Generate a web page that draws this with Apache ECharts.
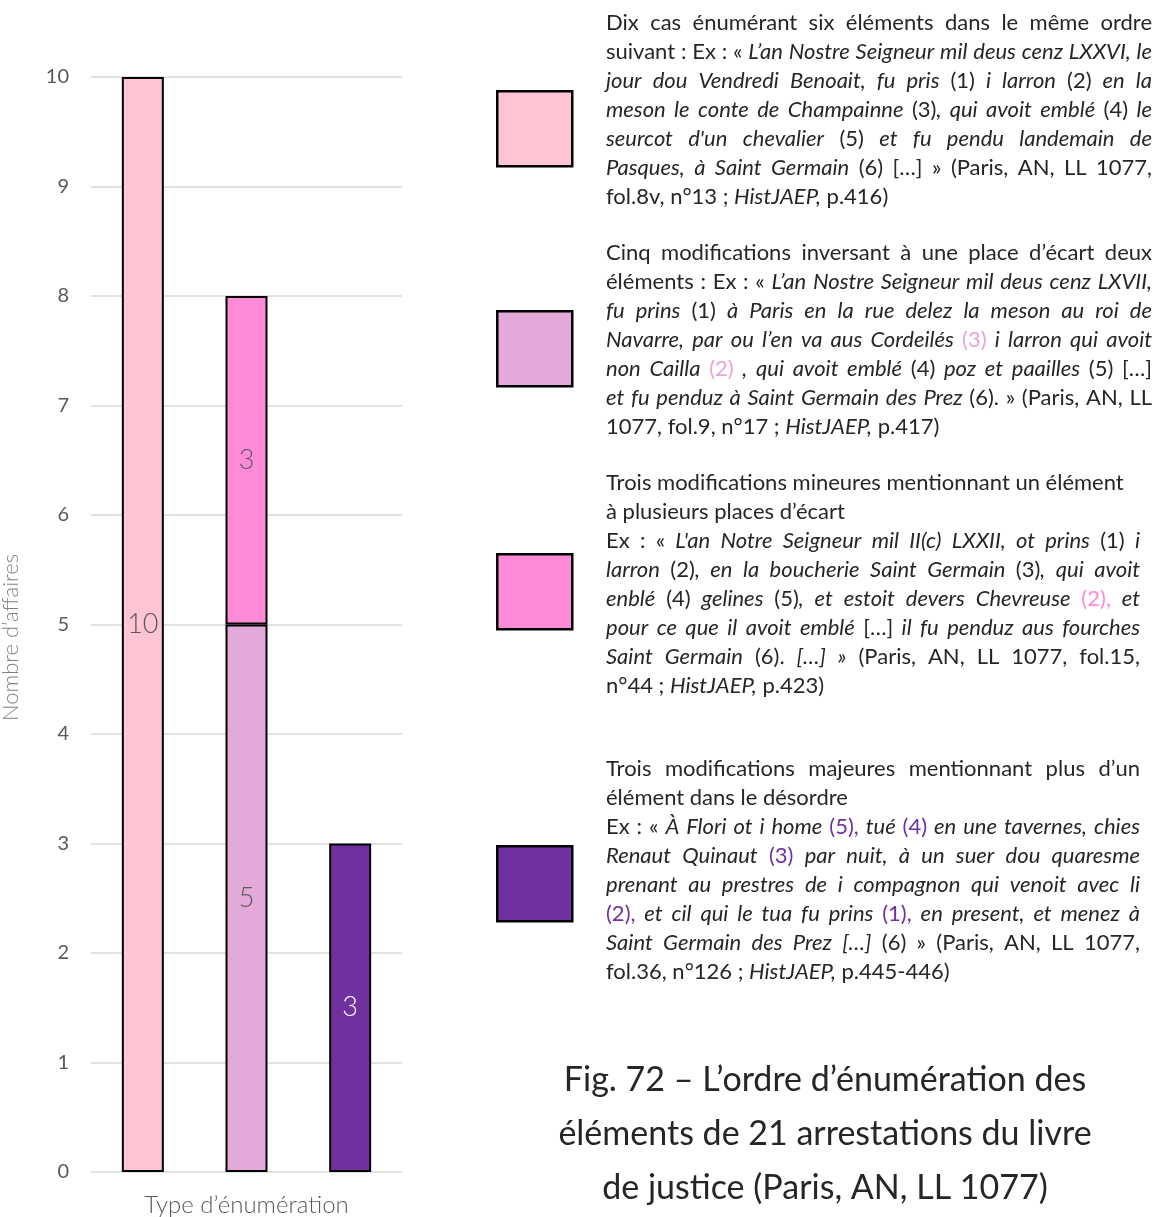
<!DOCTYPE html>
<html>
<head>
<meta charset="utf-8">
<script src="https://cdn.jsdelivr.net/npm/echarts@6/dist/echarts.min.js"></script>
<style>
  html, body { margin: 0; padding: 0; background: #fff; }
  #chart { width: 1166px; height: 1217px; }
</style>
</head>
<body>
<div id="chart"></div>
<script>
// ---- data ----
const categories = ['Même ordre', 'Inversion', 'Désordre'];
const yTicks = [0, 10, 1]; // min, max, interval
const sameOrder = [10, '-', '-'];
const inversion = ['-', 5, '-'];
const minorChange = ['-', 3, '-'];
const majorChange = ['-', '-', 3];
const seriesNames = ['Même ordre', 'Inversion', 'Modifications mineures', 'Modifications majeures'];
const seriesColors = ['#FFC5D5', '#E3A9D8', '#FF8AD8', '#7030A0'];
const titleLines = [
  'Fig. 72 – L’ordre d’énumération des',
  'éléments de 21 arrestations du livre',
  'de justice (Paris, AN, LL 1077)'
];

// Explanatory paragraphs: each line is a list of [style, text] pieces.
// n = roman, i = italic, a/b/c = coloured references.
const paragraphs = [
  { top: 23, right: 1152, lines: [
    { j: 1, s: [['n', 'Dix cas énumérant six éléments dans le même ordre']] },
    { j: 1, s: [['n', 'suivant : Ex : « '], ['i', 'L’an Nostre Seigneur mil deus cenz LXXVI, le']] },
    { j: 1, s: [['i', 'jour dou Vendredi Benoait, fu pris '], ['n', '(1) '], ['i', 'i larron '], ['n', '(2) '], ['i', 'en la']] },
    { j: 1, s: [['i', 'meson le conte de Champainne '], ['n', '(3)'], ['i', ', qui avoit emblé '], ['n', '(4) '], ['i', 'le']] },
    { j: 1, s: [['i', 'seurcot d\'un chevalier '], ['n', '(5) '], ['i', 'et fu pendu landemain de']] },
    { j: 1, s: [['i', 'Pasques, à Saint Germain '], ['n', '(6) […] » (Paris, AN, LL 1077,']] },
    { j: 0, s: [['n', 'fol.8v, n°13 ; '], ['i', 'HistJAEP,'], ['n', ' p.416)']] }
  ]},
  { top: 253, right: 1152, lines: [
    { j: 1, s: [['n', 'Cinq modifications inversant à une place d’écart deux']] },
    { j: 1, s: [['n', 'éléments : Ex : « '], ['i', 'L’an Nostre Seigneur mil deus cenz LXVII,']] },
    { j: 1, s: [['i', 'fu prins '], ['n', '(1) '], ['i', 'à Paris en la rue delez la meson au roi de']] },
    { j: 1, s: [['i', 'Navarre, par ou l’en va aus Cordeilés '], ['a', '(3) '], ['i', 'i larron qui avoit']] },
    { j: 1, s: [['i', 'non Cailla '], ['a', '(2) '], ['i', ', qui avoit emblé '], ['n', '(4) '], ['i', 'poz et paailles '], ['n', '(5) […]']] },
    { j: 1, s: [['i', 'et fu penduz à Saint Germain des Prez '], ['n', '(6). » (Paris, AN, LL']] },
    { j: 0, s: [['n', '1077, fol.9, n°17 ; '], ['i', 'HistJAEP,'], ['n', ' p.417)']] }
  ]},
  { top: 483, right: 1140, lines: [
    { j: 0, s: [['n', 'Trois modifications mineures mentionnant un élément']] },
    { j: 0, s: [['n', 'à plusieurs places d’écart']] },
    { j: 1, s: [['n', 'Ex : « '], ['i', 'L\'an Notre Seigneur mil II(c) LXXII, ot prins '], ['n', '(1) '], ['i', 'i']] },
    { j: 1, s: [['i', 'larron '], ['n', '(2)'], ['i', ', en la boucherie Saint Germain '], ['n', '(3)'], ['i', ', qui avoit']] },
    { j: 1, s: [['i', 'enblé '], ['n', '(4) '], ['i', 'gelines '], ['n', '(5)'], ['i', ', et estoit devers Chevreuse '], ['b', '(2), '], ['i', 'et']] },
    { j: 1, s: [['i', 'pour ce que il avoit emblé '], ['n', '[…] '], ['i', 'il fu penduz aus fourches']] },
    { j: 1, s: [['i', 'Saint Germain '], ['n', '(6). '], ['i', '[…] »'], ['n', ' (Paris, AN, LL 1077, fol.15,']] },
    { j: 0, s: [['n', 'n°44 ; '], ['i', 'HistJAEP,'], ['n', ' p.423)']] }
  ]},
  { top: 769, right: 1140, lines: [
    { j: 1, s: [['n', 'Trois modifications majeures mentionnant plus d’un']] },
    { j: 0, s: [['n', 'élément dans le désordre']] },
    { j: 1, s: [['n', 'Ex : « '], ['i', 'À Flori ot i home '], ['c', '(5), '], ['i', 'tué '], ['c', '(4) '], ['i', 'en une tavernes, chies']] },
    { j: 1, s: [['i', 'Renaut Quinaut '], ['c', '(3) '], ['i', 'par nuit, à un suer dou quaresme']] },
    { j: 1, s: [['i', 'prenant au prestres de i compagnon qui venoit avec li']] },
    { j: 1, s: [['c', '(2), '], ['i', 'et cil qui le tua fu prins '], ['c', '(1), '], ['i', 'en present, et menez à']] },
    { j: 1, s: [['i', 'Saint Germain des Prez […] '], ['n', '(6) » (Paris, AN, LL 1077,']] },
    { j: 0, s: [['n', 'fol.36, n°126 ; '], ['i', 'HistJAEP,'], ['n', ' p.445-446)']] }
  ]}
];
const legendTops = [90, 310, 553, 845];

// ---- styling ----
const FONT = 'Lato, "Noto Sans", sans-serif';
const TXT_SIZE = 22;
const TXT_WEIGHT = 400;
const TXT_LH = 29;
const TXT_LEFT = 606;
const TEXT_DARK = '#262626';
const AXIS_GREY = '#595959';

const richStyles = {
  n: { fill: TEXT_DARK, fontStyle: 'normal' },
  i: { fill: TEXT_DARK, fontStyle: 'italic' },
  a: { fill: '#E8A3D8', fontStyle: 'normal' },
  b: { fill: '#FF8AD8', fontStyle: 'normal' },
  c: { fill: '#7030A0', fontStyle: 'normal' }
};
const rich = {};
Object.keys(richStyles).forEach(k => {
  rich[k] = Object.assign({ fontSize: TXT_SIZE, fontFamily: FONT, fontWeight: TXT_WEIGHT, lineHeight: TXT_LH }, richStyles[k]);
});

const measureCtx = document.createElement('canvas').getContext('2d');
function pieceWidth(style, text) {
  measureCtx.font = (richStyles[style].fontStyle === 'italic' ? 'italic ' : '') + TXT_WEIGHT + ' ' + TXT_SIZE + 'px ' + FONT;
  return measureCtx.measureText(text).width;
}

// split a line into words, each word keeping its styled pieces
function lineWords(pieces) {
  const words = [];
  let cur = [];
  pieces.forEach(([st, txt]) => {
    for (const ch of txt) {
      if (ch === ' ') {
        if (cur.length) { words.push(cur); cur = []; }
      } else {
        const last = cur[cur.length - 1];
        if (last && last[0] === st) last[1] += ch; else cur.push([st, ch]);
      }
    }
  });
  if (cur.length) words.push(cur);
  return words;
}

const graphics = [];
paragraphs.forEach(p => {
  const width = p.right - TXT_LEFT;
  p.lines.forEach((line, li) => {
    const words = lineWords(line.s);
    const widths = words.map(w => w.reduce((acc, [st, t]) => acc + pieceWidth(st, t), 0));
    const total = widths.reduce((a, b) => a + b, 0);
    const space = pieceWidth('n', ' ');
    const gap = line.j && words.length > 1 ? (width - total) / (words.length - 1) : space;
    let x = TXT_LEFT;
    const y = p.top + li * TXT_LH;
    words.forEach((w, wi) => {
      graphics.push({
        type: 'text',
        x: x,
        y: y,
        silent: true,
        style: {
          text: w.map(([st, t]) => '{' + st + '|' + t + '}').join(''),
          rich: rich,
          fontSize: TXT_SIZE,
          fontFamily: FONT,
          verticalAlign: 'middle',
          align: 'left'
        }
      });
      x += widths[wi] + gap;
    });
  });
});

// figure caption
titleLines.forEach((t, i) => {
  graphics.push({
    type: 'text',
    x: 825,
    y: 1080 + i * 54,
    silent: true,
    style: {
      text: t,
      fill: '#262626',
      fontSize: 34,
      fontWeight: 400,
      fontFamily: FONT,
      align: 'center',
      verticalAlign: 'middle'
    }
  });
});

const chart = echarts.init(document.getElementById('chart'), null, { renderer: 'canvas' });

const seriesData = [sameOrder, inversion, minorChange, majorChange];
const labelColors = [AXIS_GREY, AXIS_GREY, AXIS_GREY, '#FFFFFF'];

const option = {
  animation: false,
  backgroundColor: '#FFFFFF',
  textStyle: { fontFamily: FONT },
  grid: { left: 91, right: 764, top: 77, bottom: 45, outerBoundsMode: 'none', containLabel: false },
  legend: seriesNames.map((name, i) => ({
    data: [name],
    left: 496,
    top: legendTops[i],
    padding: 0,
    icon: 'rect',
    itemWidth: 75,
    itemHeight: 75,
    selectedMode: false,
    formatter: () => '',
    itemStyle: { borderColor: '#000', borderWidth: 2.5 }
  })),
  xAxis: {
    type: 'category',
    data: categories,
    name: 'Type d’énumération',
    nameLocation: 'middle',
    nameGap: 21,
    nameTextStyle: { color: AXIS_GREY, fontSize: 24, fontWeight: 300, fontFamily: FONT },
    axisLine: { show: false },
    axisTick: { show: false },
    axisLabel: { show: false }
  },
  yAxis: {
    type: 'value',
    min: yTicks[0],
    max: yTicks[1],
    interval: yTicks[2],
    name: 'Nombre d’affaires',
    nameLocation: 'middle',
    nameGap: 69,
    nameTextStyle: { color: '#7F7F7F', fontSize: 22, fontWeight: 300, fontFamily: FONT, padding: [0, 26, 0, 0] },
    axisLine: { show: false },
    axisTick: { show: false },
    axisLabel: { color: AXIS_GREY, fontSize: 20, margin: 22, fontFamily: FONT },
    splitLine: { lineStyle: { color: '#D9D9D9', width: 1.5 } }
  },
  series: seriesNames.map((name, i) => ({
    name: name,
    type: 'bar',
    stack: 'total',
    barWidth: 42,
    data: seriesData[i],
    itemStyle: { color: seriesColors[i], borderColor: '#000', borderWidth: 2 },
    label: {
      show: true,
      position: 'inside',
      color: labelColors[i],
      fontSize: 27,
      fontWeight: 300,
      fontFamily: FONT
    }
  })),
  graphic: graphics
};

chart.setOption(option);
</script>
</body>
</html>
